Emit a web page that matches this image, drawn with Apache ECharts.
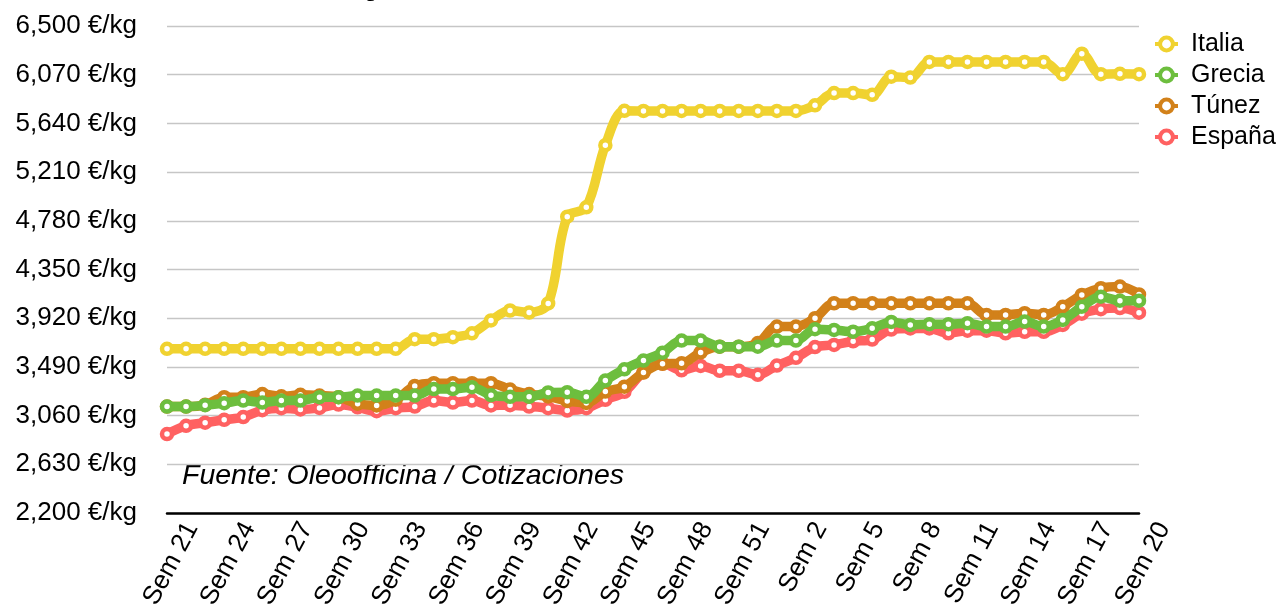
<!DOCTYPE html>
<html><head><meta charset="utf-8">
<script src="https://cdn.jsdelivr.net/npm/echarts@6/dist/echarts.min.js"></script>
<style>html,body{margin:0;padding:0;background:#fff}#c{width:1277px;height:612px}</style>
</head><body><div id="c"></div>
<script>
const weeks = ['Sem 21','Sem 22','Sem 23','Sem 24','Sem 25','Sem 26','Sem 27','Sem 28','Sem 29','Sem 30','Sem 31','Sem 32','Sem 33','Sem 34','Sem 35','Sem 36','Sem 37','Sem 38','Sem 39','Sem 40','Sem 41','Sem 42','Sem 43','Sem 44','Sem 45','Sem 46','Sem 47','Sem 48','Sem 49','Sem 50','Sem 51','Sem 52','Sem 1','Sem 2','Sem 3','Sem 4','Sem 5','Sem 6','Sem 7','Sem 8','Sem 9','Sem 10','Sem 11','Sem 12','Sem 13','Sem 14','Sem 15','Sem 16','Sem 17','Sem 18','Sem 19','Sem 20'];
const italia = [3650,3650,3650,3650,3650,3650,3650,3650,3650,3650,3650,3650,3650,3735,3735,3752,3787,3900,3988,3970,4050,4816,4899,5448,5751,5750,5750,5750,5750,5750,5750,5750,5750,5750,5800,5908,5908,5892,6052,6045,6183,6183,6183,6183,6183,6183,6183,6074,6255,6074,6078,6074];
const grecia = [3140,3140,3152,3170,3193,3175,3193,3193,3223,3223,3237,3237,3237,3237,3294,3294,3311,3240,3226,3226,3264,3267,3226,3369,3469,3546,3616,3722,3722,3669,3669,3669,3722,3722,3823,3816,3801,3831,3887,3861,3867,3867,3876,3846,3846,3890,3846,3905,4022,4110,4075,4075];
const tunez = [3140,3140,3155,3223,3223,3250,3230,3243,3237,3223,3165,3150,3200,3322,3346,3346,3346,3346,3290,3250,3229,3190,3172,3272,3315,3440,3517,3522,3618,3669,3669,3700,3846,3846,3920,4052,4052,4052,4052,4052,4052,4052,4052,3949,3949,3964,3949,4020,4125,4185,4199,4130];
const espana = [2897,2970,2997,3023,3047,3108,3126,3114,3128,3158,3133,3099,3126,3140,3193,3175,3193,3150,3152,3140,3126,3105,3126,3199,3270,3443,3520,3460,3499,3456,3456,3420,3502,3570,3665,3684,3716,3731,3820,3830,3830,3787,3810,3810,3787,3800,3800,3860,3960,4000,4010,3969];
const seriesNames = ['Italia','Grecia','Túnez','España'];
const colors = ['#F0D230','#6DBE3E','#D2811A','#FF6161'];
const sourceText = 'Fuente: Oleoofficina / Cotizaciones';
const titleText = 'Precio medio del aceite, € / kg';

const FONT = '"Liberation Sans", Helvetica, Arial, sans-serif';
function fmt(v){
  const s = String(Math.round(v));
  return s.replace(/\B(?=(\d{3})+(?!\d))/g, ',') + ' €/kg';
}
function mk(name, data, color, z){
  return {name, type:'line', data, smooth:0.35, symbol:'circle', symbolSize:10,
    lineStyle:{width:9.5,color}, itemStyle:{color:'#fff', borderColor:color, borderWidth:4.5},
    z, emphasis:{disabled:true}, animation:false};
}
const chart = echarts.init(document.getElementById('c'), null, {renderer:'canvas'});
chart.setOption({
  animation:false,
  backgroundColor:'#fff',
  textStyle:{fontFamily:FONT},
  grid:[
    {left:167, right:138, top:26, bottom:99},
    {left:192, right:113, top:26, bottom:99}
  ],
  legend:{
    orient:'vertical', left:1148, top:26, itemWidth:23, itemHeight:16, itemGap:5,
    data:seriesNames,
    lineStyle:{width:4},
    itemStyle:{borderWidth:4},
    textStyle:{fontSize:25, color:'#000', fontFamily:FONT, lineHeight:26, padding:[0,0,0,8]}
  },
  xAxis:[
    {type:'category', data:weeks, boundaryGap:false,
     axisLine:{lineStyle:{color:'#000', width:2.5}}, axisTick:{show:false},
     axisLabel:{show:false}, splitLine:{show:false}},
    {type:'category', gridIndex:1, data:weeks, boundaryGap:false,
     axisLine:{show:false}, axisTick:{show:false}, splitLine:{show:false},
     axisLabel:{interval:2, rotate:62, fontSize:26, color:'#000', margin:24, fontFamily:FONT}}
  ],
  yAxis:[
    {type:'value', min:2200, max:6500, interval:430,
     axisLine:{show:false}, axisTick:{show:false},
     splitLine:{lineStyle:{color:'#c6c6c6', width:1.3}},
     axisLabel:{formatter:fmt, fontSize:26, color:'#000', margin:30, fontFamily:FONT}},
    {type:'value', gridIndex:1, show:false}
  ],
  graphic:[
    {type:'text', left:182, top:462, silent:true,
     style:{text:sourceText, font:'italic 28.5px "Liberation Sans", Helvetica, Arial, sans-serif', fill:'#000'}},
    {type:'text', x:30, y:-24, silent:true,
     style:{text:titleText, font:'26px "Liberation Sans", Helvetica, Arial, sans-serif', fill:'#000'}}
  ],
  series:[
    mk(seriesNames[3], espana, colors[3], 2),
    mk(seriesNames[2], tunez, colors[2], 3),
    mk(seriesNames[1], grecia, colors[1], 4),
    mk(seriesNames[0], italia, colors[0], 5)
  ]
});
</script></body></html>
